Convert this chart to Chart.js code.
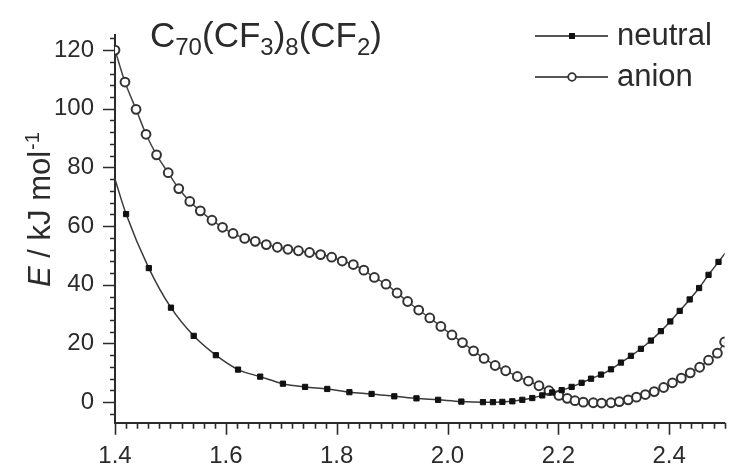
<!DOCTYPE html>
<html>
<head>
<meta charset="utf-8">
<script src="https://cdn.jsdelivr.net/npm/chart.js@4/dist/chart.umd.min.js"></script>
<style>
html,body{margin:0;padding:0;background:#fff;}
#wrap{width:731px;height:467px;}
</style>
</head>
<body>
<div id="wrap"><canvas id="c" width="731" height="467"></canvas></div>
<script>
// ---- data ----
const neutralX = [1.400,1.420,1.461,1.501,1.542,1.582,1.622,1.662,1.703,1.743,1.783,1.823,1.863,1.904,1.944,1.983,2.025,2.064,2.082,2.099,2.117,2.135,2.153,2.171,2.189,2.206,2.224,2.242,2.259,2.277,2.295,2.313,2.331,2.349,2.367,2.385,2.402,2.419,2.437,2.454,2.471,2.489,2.507];
const neutralE = [76.0,64.1,45.7,32.2,22.6,16.0,11.1,8.7,6.3,5.2,4.5,3.4,2.8,2.0,1.3,0.8,0.2,0.0,0.0,0.1,0.3,0.8,1.4,2.3,3.3,4.1,5.2,6.6,8.0,9.4,11.2,13.5,15.8,18.2,21.0,24.2,27.5,31.1,35.0,38.9,43.4,47.8,52.3];
const anionX = [1.400,1.418,1.438,1.456,1.475,1.496,1.515,1.535,1.554,1.575,1.594,1.613,1.634,1.653,1.673,1.693,1.712,1.731,1.751,1.771,1.791,1.810,1.830,1.849,1.868,1.889,1.909,1.928,1.948,1.968,1.988,2.008,2.027,2.047,2.066,2.086,2.105,2.126,2.146,2.165,2.183,2.201,2.216,2.230,2.245,2.263,2.278,2.295,2.310,2.326,2.341,2.357,2.373,2.390,2.406,2.422,2.438,2.455,2.471,2.487,2.500];
const anionE = [120.0,109.1,99.8,91.3,84.3,78.2,72.8,68.4,65.2,62.0,59.6,57.5,55.8,54.8,53.7,52.8,52.1,51.6,51.0,50.3,49.4,48.1,46.9,45.0,42.5,40.2,37.2,34.3,31.4,28.7,25.8,22.9,20.3,17.5,14.9,12.5,10.7,8.75,7.2,5.6,3.9,2.3,1.3,0.5,0.0,-0.2,-0.3,-0.2,0.2,0.8,1.7,2.6,3.6,5.0,6.6,8.2,10.0,11.9,14.3,16.7,20.5];
const xTicks = [1.4,1.6,1.8,2.0,2.2,2.4];
const yTicks = [0,20,40,60,80,100,120];
const seriesNames = ['neutral','anion'];

const FONT = '"Liberation Sans", Arial, Helvetica, sans-serif';
const INK = '#2b2b2b';

const decor = {
  id: 'decor',
  afterDraw(chart) {
    const ctx = chart.ctx;
    const xs = chart.scales.x, ys = chart.scales.y;
    const area = chart.chartArea;
    ctx.save();
    // minor/major ticks (outside)
    ctx.strokeStyle = INK;
    ctx.lineWidth = 1.6;
    ctx.beginPath();
    for (let i = 0; i <= 55; i++) {
      const v = 1.4 + i * 0.02;
      const px = Math.round(xs.getPixelForValue(v)) + 0.5;
      const len = (i % 10 === 0) ? 12 : 6;
      ctx.moveTo(px, area.bottom);
      ctx.lineTo(px, area.bottom + len);
    }
    for (let v = -4; v <= 124; v += 4) {
      const py = Math.round(ys.getPixelForValue(v)) + 0.5;
      const len = (v % 20 === 0) ? 12 : 5;
      ctx.moveTo(area.left, py);
      ctx.lineTo(area.left - len, py);
    }
    ctx.stroke();

    // title with subscripts
    ctx.fillStyle = INK;
    ctx.textBaseline = 'alphabetic';
    ctx.textAlign = 'left';
    const parts = [['C',0],['70',1],['(CF',0],['3',1],[')',0],['8',1],['(CF',0],['2',1],[')',0]];
    let tx = 150; const tb = 47;
    for (const [t, sub] of parts) {
      ctx.font = sub ? ('24px ' + FONT) : ('35px ' + FONT);
      ctx.fillText(t, tx, sub ? tb + 8 : tb);
      tx += ctx.measureText(t).width;
    }

    // y-axis title
    ctx.save();
    ctx.translate(50, 287);
    ctx.rotate(-Math.PI / 2);
    let yx = 0;
    ctx.font = 'italic 31px ' + FONT;
    ctx.fillText('E', yx, 0); yx += ctx.measureText('E').width;
    ctx.font = '31px ' + FONT;
    ctx.fillText(' / kJ mol', yx, 0); yx += ctx.measureText(' / kJ mol').width;
    ctx.font = '20px ' + FONT;
    ctx.fillText('-1', yx + 1, -11);
    ctx.restore();

    // legend
    const rows = [{y: 36, text: seriesNames[0], ds: 0}, {y: 77, text: seriesNames[1], ds: 1}];
    ctx.font = '31px ' + FONT;
    for (const r of rows) {
      ctx.strokeStyle = '#555';
      ctx.lineWidth = 2;
      ctx.beginPath();
      ctx.moveTo(535, r.y); ctx.lineTo(608, r.y);
      ctx.stroke();
      if (r.ds === 0) {
        ctx.fillStyle = '#111';
        ctx.fillRect(569, r.y - 3, 6, 6);
      } else {
        ctx.fillStyle = '#fff';
        ctx.strokeStyle = '#333';
        ctx.lineWidth = 1.8;
        ctx.beginPath();
        ctx.arc(572, r.y, 3.8, 0, Math.PI * 2);
        ctx.fill(); ctx.stroke();
      }
      ctx.fillStyle = INK;
      ctx.fillText(r.text, 617, r.y + 9);
    }
    ctx.restore();
  }
};

new Chart(document.getElementById('c'), {
  type: 'scatter',
  data: {
    datasets: [
      {
        label: seriesNames[0],
        data: neutralX.map((x, i) => ({x: x, y: neutralE[i]})),
        showLine: true,
        borderColor: '#3a3a3a',
        borderWidth: 1.5,
        cubicInterpolationMode: 'monotone',
        pointStyle: 'rect',
        pointRadius: (c) => c.dataIndex === 0 ? 0 : 3.7,
        pointBackgroundColor: '#111',
        pointBorderColor: '#111',
        pointBorderWidth: 1,
        clip: 0
      },
      {
        label: seriesNames[1],
        data: anionX.map((x, i) => ({x: x, y: anionE[i]})),
        showLine: true,
        borderColor: '#444',
        borderWidth: 1.5,
        cubicInterpolationMode: 'monotone',
        pointStyle: 'circle',
        pointRadius: 4.4,
        pointBackgroundColor: '#fff',
        pointBorderColor: '#333',
        pointBorderWidth: 2,
        clip: 0
      }
    ]
  },
  options: {
    responsive: false,
    animation: false,
    devicePixelRatio: 1,
    layout: {padding: {top: 9.5, right: 1, left: 0, bottom: 0}},
    plugins: {legend: {display: false}, tooltip: {enabled: false}},
    scales: {
      x: {
        type: 'linear',
        min: 1.4, max: 2.5,
        afterBuildTicks: (s) => { s.ticks = xTicks.map(v => ({value: v})); },
        afterFit: (s) => { s.height = 44.3; },
        grid: {display: false, drawTicks: false},
        border: {display: true, color: INK, width: 2},
        ticks: {
          padding: 19,
          color: INK,
          font: {family: FONT, size: 24},
          maxRotation: 0,
          callback: (v) => Number(v).toFixed(1)
        }
      },
      y: {
        type: 'linear',
        min: -7, max: 125,
        afterBuildTicks: (s) => { s.ticks = yTicks.map(v => ({value: v})); },
        afterFit: (s) => { s.width = 115; },
        grid: {display: false, drawTicks: false},
        border: {display: true, color: INK, width: 2},
        ticks: {
          padding: 21,
          color: INK,
          font: {family: FONT, size: 24},
          callback: (v) => String(v)
        }
      }
    }
  },
  plugins: [decor]
});
</script>
</body>
</html>
